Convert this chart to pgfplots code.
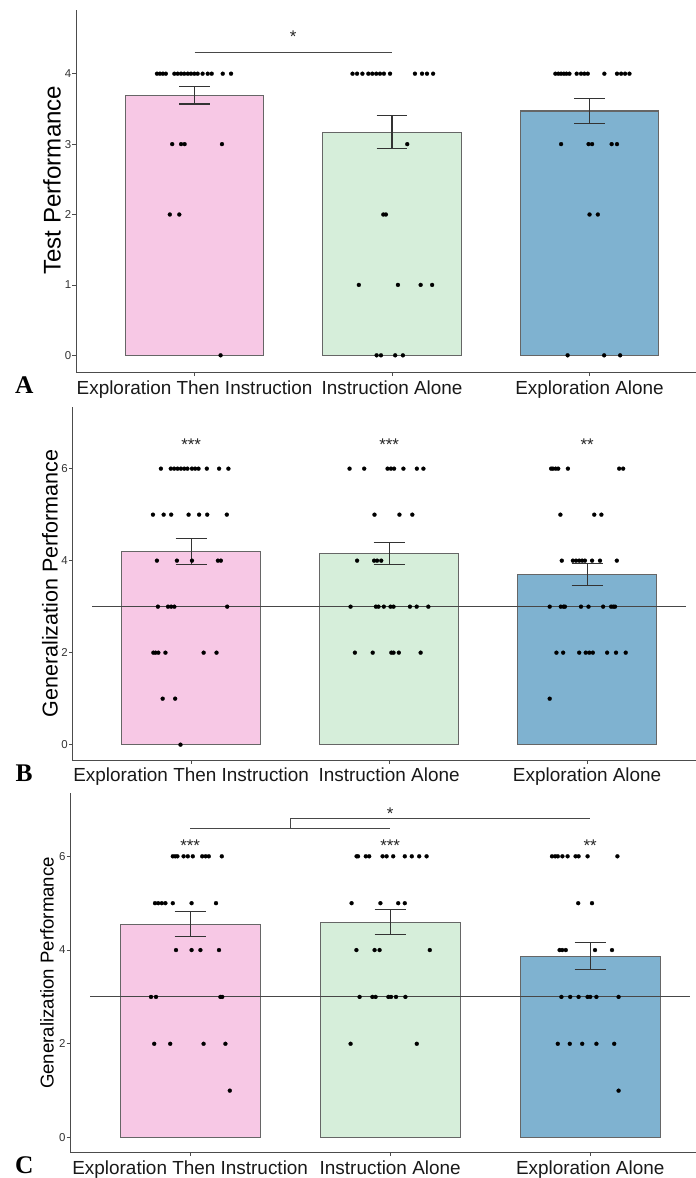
\documentclass[border=0pt]{standalone}
\usepackage{pgfplots}
\pgfplotsset{compat=1.18}
\usepackage{fontspec}
\setmainfont{Liberation Sans}
\newfontfamily\lettfont{Liberation Serif}
\definecolor{cPink}{RGB}{247,200,229}
\definecolor{cGreen}{RGB}{214,238,218}
\definecolor{cBlue}{RGB}{127,178,208}
\tikzset{sigstar/.style={font=\fontsize{17}{17}\selectfont, text=black!85, anchor=north, inner sep=0pt}}
\pgfplotsset{
  panel/.style={
    scale only axis,
    axis x line*=bottom, axis y line*=left,
    axis line style={black!70, line width=0.9bp},
    tick align=outside, major tick length=3.5bp,
    tick style={black!70, line width=0.8bp},
    xtick={1,2,3},
    xticklabels={Exploration Then Instruction, Instruction Alone, Exploration Alone},
    xmin=0.4,
    xticklabel style={font=\fontsize{19}{19}\selectfont, text=black!90, anchor=north, inner sep=0pt, yshift=-4bp},
    yticklabel style={font=\fontsize{11.5}{11.5}\selectfont, text=black!80, anchor=east, inner sep=0pt, xshift=-1bp},
    /pgf/number format/assume math mode=true,
    clip=false,
    unbounded coords=jump,
  },
  barstyle/.style={ybar, bar width=0.7, bar shift=0pt, draw=black!60, line width=1.1bp, fill=#1},
  dots/.style={only marks, mark=*, mark size=2bp, black, mark options={draw=black, fill=black, line width=0.2bp}},
  errb/.style={black!80, line width=1.1bp, mark=none},
  refl/.style={black!72, line width=1bp, mark=none},
}
\begin{document}
\begin{tikzpicture}
\path[use as bounding box] (0,0) rectangle (696bp,-1178bp);

% ---------------- Panel A ----------------
\begin{axis}[panel, at={(76bp,-372.7bp)}, anchor=south west,
  width=620bp, height=362.7bp, xmax=3.539, ymin=-0.247, ymax=4.905,
  ytick={0,1,2,3,4},
  ylabel={Test Performance},
  ylabel style={font=\fontsize{24.2}{24.2}\selectfont, at={(axis description cs:-0.0387,0.531)}, anchor=center}]
\addplot[barstyle=cPink] coordinates {(1,3.69)};
\addplot[barstyle=cGreen] coordinates {(2,3.17)};
\addplot[barstyle=cBlue] coordinates {(3,3.47)};
\addplot[errb] coordinates {
 (0.922,3.82) (1.078,3.82) (1,nan) (1,3.82) (1,3.57) (1,nan) (0.922,3.57) (1.078,3.57) (1,nan)
 (1.922,3.40) (2.078,3.40) (2,nan) (2,3.40) (2,2.94) (2,nan) (1.922,2.94) (2.078,2.94) (2,nan)
 (2.922,3.65) (3.078,3.65) (3,nan) (3,3.65) (3,3.29) (3,nan) (2.922,3.29) (3.078,3.29)};
\addplot[dots] coordinates {
 (0.81,4) (0.825,4) (0.84,4) (0.855,4) (0.898,4) (0.915,4) (0.932,4) (0.948,4) (0.966,4)
 (0.982,4) (0.999,4) (1.016,4) (1.041,4) (1.067,4) (1.087,4) (1.143,4) (1.185,4)
 (0.887,3) (0.932,3) (0.950,3) (1.139,3)
 (0.875,2) (0.923,2)
 (1.132,0)};
\addplot[dots] coordinates {
 (1.8,4) (1.823,4) (1.85,4) (1.88,4) (1.9,4) (1.92,4) (1.939,4) (1.959,4) (1.99,4)
 (2.116,4) (2.152,4) (2.177,4) (2.208,4)
 (2.077,3)
 (1.956,2) (1.969,2)
 (1.832,1) (2.03,1) (2.145,1) (2.203,1)
 (1.922,0) (1.944,0) (2.016,0) (2.055,0)};
\addplot[dots] coordinates {
 (2.827,4) (2.842,4) (2.856,4) (2.87,4) (2.883,4) (2.898,4) (2.935,4) (2.957,4) (2.974,4)
 (2.991,4) (3.075,4) (3.139,4) (3.16,4) (3.18,4) (3.202,4)
 (2.856,3) (2.995,3) (3.013,3) (3.112,3) (3.139,3)
 (3.0,2) (3.042,2)
 (2.889,0) (3.074,0) (3.155,0)};
\addplot[refl] coordinates {(1,4.304) (2,4.304)};
\node[sigstar] at (axis cs:1.5,4.607) {*};
\end{axis}

% ---------------- Panel B ----------------
\begin{axis}[panel, at={(72.4bp,-760bp)}, anchor=south west,
  width=623.6bp, height=353bp, xmax=3.55, ymin=-0.333, ymax=7.34,
  ytick={0,2,4,6},
  ylabel={Generalization Performance},
  ylabel style={font=\fontsize{21.6}{21.6}\selectfont, at={(axis description cs:-0.0359,0.5)}, anchor=center}]
\addplot[barstyle=cPink] coordinates {(1,4.20)};
\addplot[barstyle=cGreen] coordinates {(2,4.15)};
\addplot[barstyle=cBlue] coordinates {(3,3.70)};
\addplot[errb] coordinates {
 (0.922,4.48) (1.078,4.48) (1,nan) (1,4.48) (1,3.92) (1,nan) (0.922,3.92) (1.078,3.92) (1,nan)
 (1.922,4.39) (2.078,4.39) (2,nan) (2,4.39) (2,3.91) (2,nan) (1.922,3.91) (2.078,3.91) (2,nan)
 (2.922,3.93) (3.078,3.93) (3,nan) (3,3.93) (3,3.47) (3,nan) (2.922,3.47) (3.078,3.47)};
\addplot[dots] coordinates {
 (0.847,6) (0.897,6) (0.914,6) (0.931,6) (0.948,6) (0.965,6) (0.981,6) (1.004,6) (1.02,6)
 (1.037,6) (1.079,6) (1.141,6) (1.188,6)
 (0.807,5) (0.861,5) (0.899,5) (0.987,5) (1.04,5) (1.081,5) (1.18,5)
 (0.827,4) (0.928,4) (1.004,4) (1.135,4) (1.15,4)
 (0.832,3) (0.883,3) (0.899,3) (0.915,3) (1.182,3)
 (0.809,2) (0.82,2) (0.834,2) (0.87,2) (1.063,2) (1.128,2)
 (0.856,1) (0.919,1)
 (0.946,0)};
\addplot[dots] coordinates {
 (1.8,6) (1.874,6) (1.992,6) (2.009,6) (2.025,6) (2.072,6) (2.14,6) (2.173,6)
 (1.926,5) (2.052,5) (2.117,5)
 (1.838,4) (1.924,4) (1.939,4) (1.96,4)
 (1.805,3) (1.933,3) (1.946,3) (1.973,3) (2.007,3) (2.022,3) (2.105,3) (2.139,3) (2.198,3)
 (1.827,2) (1.917,2) (2.011,2) (2.022,2) (2.049,2) (2.159,2)};
\addplot[dots] coordinates {
 (2.818,6) (2.827,6) (2.841,6) (2.854,6) (2.903,6) (3.162,6) (3.182,6)
 (2.865,5) (3.036,5) (3.072,5)
 (2.872,4) (2.928,4) (2.944,4) (2.96,4) (2.975,4) (2.989,4) (3.025,4) (3.065,4) (3.15,4)
 (2.811,3) (2.867,3) (2.881,3) (2.888,3) (2.969,3) (3.007,3) (3.081,3) (3.121,3) (3.132,3) (3.141,3)
 (2.845,2) (2.879,2) (2.96,2) (2.993,2) (3.011,2) (3.029,2) (3.101,2) (3.146,2) (3.195,2)
 (2.811,1)};
\addplot[refl] coordinates {(0.5,3) (3.5,3)};
\node[sigstar] at (axis cs:1,6.65) {***};
\node[sigstar] at (axis cs:2,6.65) {***};
\node[sigstar] at (axis cs:3,6.65) {**};
\end{axis}

% ---------------- Panel C ----------------
\begin{axis}[panel, at={(70.2bp,-1152.7bp)}, anchor=south west,
  width=625.8bp, height=359.4bp, xmax=3.529, ymin=-0.324, ymax=7.344,
  ytick={0,2,4,6},
  ylabel={Generalization Performance},
  ylabel style={font=\fontsize{18.7}{18.7}\selectfont, at={(axis description cs:-0.037,0.5)}, anchor=center}]
\addplot[barstyle=cPink] coordinates {(1,4.55)};
\addplot[barstyle=cGreen] coordinates {(2,4.59)};
\addplot[barstyle=cBlue] coordinates {(3,3.87)};
\addplot[errb] coordinates {
 (0.922,4.82) (1.078,4.82) (1,nan) (1,4.82) (1,4.28) (1,nan) (0.922,4.28) (1.078,4.28) (1,nan)
 (1.922,4.86) (2.078,4.86) (2,nan) (2,4.86) (2,4.33) (2,nan) (1.922,4.33) (2.078,4.33) (2,nan)
 (2.922,4.16) (3.078,4.16) (3,nan) (3,4.16) (3,3.58) (3,nan) (2.922,3.58) (3.078,3.58)};
\addplot[dots] coordinates {
 (0.913,6) (0.925,6) (0.936,6) (0.967,6) (0.988,6) (1.013,6) (1.06,6) (1.077,6) (1.093,6) (1.158,6)
 (0.824,5) (0.84,5) (0.858,5) (0.876,5) (0.913,5) (1.007,5) (1.129,5)
 (0.929,4) (1.007,4) (1.051,4) (1.144,4)
 (0.804,3) (0.829,3) (1.151,3) (1.16,3)
 (0.82,2) (0.9,2) (1.067,2) (1.176,2)
 (1.198,1)};
\addplot[dots] coordinates {
 (1.832,6) (1.839,6) (1.878,6) (1.895,6) (1.962,6) (1.982,6) (2.015,6) (2.073,6) (2.108,6) (2.145,6) (2.182,6)
 (1.807,5) (1.951,5) (2.04,5) (2.073,5)
 (1.831,4) (1.922,4) (1.947,4) (2.198,4)
 (1.847,3) (1.911,3) (1.927,3) (1.991,3) (2.004,3) (2.029,3) (2.076,3)
 (1.802,2) (2.133,2)};
\addplot[dots] coordinates {
 (2.809,6) (2.825,6) (2.838,6) (2.861,6) (2.887,6) (2.927,6) (2.942,6) (2.987,6) (3.136,6)
 (2.94,5) (3.009,5)
 (2.847,4) (2.86,4) (2.878,4) (3.024,4) (3.109,4)
 (2.856,3) (2.9,3) (2.942,3) (2.987,3) (3.0,3) (3.031,3) (3.142,3)
 (2.838,2) (2.898,2) (2.96,2) (3.031,2) (3.12,2)
 (3.142,1)};
\addplot[refl] coordinates {(0.5,3) (3.5,3)};
\addplot[refl] coordinates {(1,6.597) (1.5,6.597) (1.5,6.80) (3,6.80)};
\addplot[refl] coordinates {(1.5,6.597) (2,6.597)};
\node[sigstar] at (axis cs:1,6.35) {***};
\node[sigstar] at (axis cs:2,6.35) {***};
\node[sigstar] at (axis cs:3,6.35) {**};
\node[sigstar] at (axis cs:2,7.03) {*};
\end{axis}

\node[anchor=base west, inner sep=0pt, font=\lettfont\bfseries\fontsize{25.5}{25.5}\selectfont] at (15bp,-393.3bp) {A};
\node[anchor=base west, inner sep=0pt, font=\lettfont\bfseries\fontsize{25.5}{25.5}\selectfont] at (15.5bp,-781bp) {B};
\node[anchor=base west, inner sep=0pt, font=\lettfont\bfseries\fontsize{25.5}{25.5}\selectfont] at (15bp,-1173.5bp) {C};
\end{tikzpicture}
\end{document}
